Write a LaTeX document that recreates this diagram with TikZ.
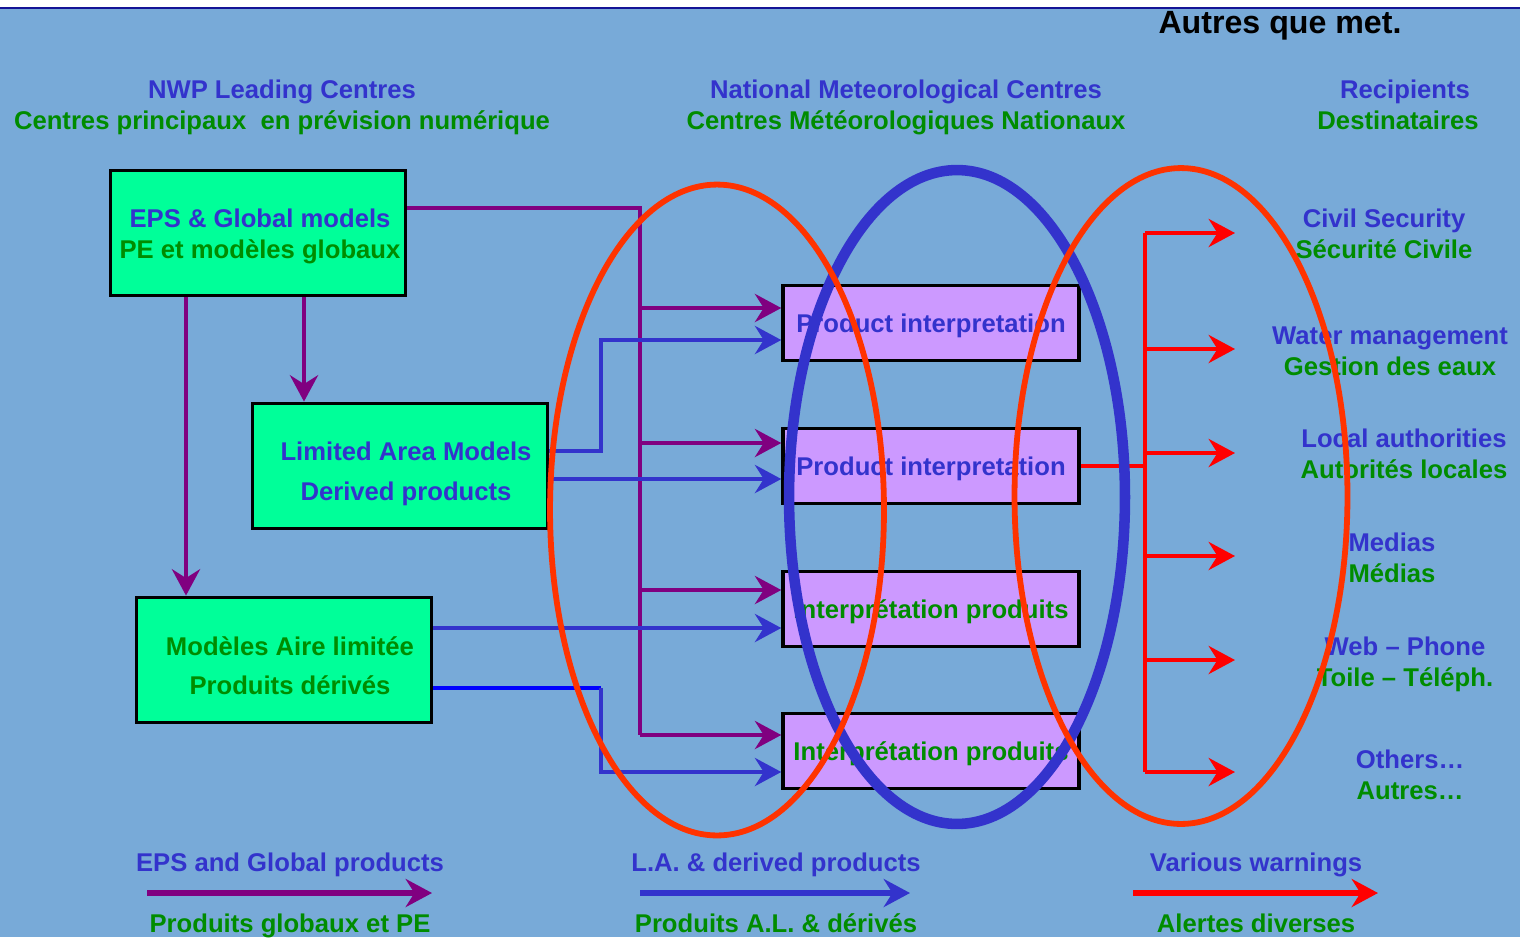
\documentclass[tikz,border=0pt]{standalone}
\usepackage{fontspec}
\setmainfont{Liberation Sans}
\usetikzlibrary{arrows.meta,calc}

% Colors
\definecolor{backblue}{RGB}{120,170,216}
\definecolor{topline}{RGB}{20,20,150}
\definecolor{tblue}{RGB}{51,51,204}
\definecolor{tgreen}{RGB}{0,140,0}
\definecolor{modelgreen}{RGB}{0,255,153}
\definecolor{prodlilac}{RGB}{204,153,255}
\definecolor{flowpurple}{RGB}{128,0,128}
\definecolor{flowblue}{RGB}{51,51,204}
\definecolor{purblue}{RGB}{0,0,255}
\definecolor{flowred}{RGB}{255,0,0}
\definecolor{ringred}{RGB}{255,51,0}

\begin{document}
\begin{tikzpicture}[
  x=0.02cm, y=-0.02cm, % one unit = one pixel, y downward
  font={\fontsize{14.6}{17.5}\selectfont\bfseries},
  >={Stealth[length=15pt, width=16pt, inset=5pt]},
  modelbox/.style={draw=black, line width=2.2pt, fill=modelgreen,
    minimum width=5.9cm, minimum height=2.5cm, inner sep=0pt},
  prodbox/.style={draw=black, line width=2pt, fill=prodlilac,
    minimum width=5.92cm, minimum height=1.5cm, inner sep=0pt,
    text height=10.4pt, text depth=0pt},
  tag/.style={inner sep=0pt, text height=10.4pt, text depth=0pt},
  label/.style={align=center, inner sep=0pt},
  pline/.style={draw=flowpurple, line width=2.3pt},
  bline/.style={draw=flowblue, line width=2.3pt},
  rline/.style={draw=flowred, line width=2.3pt},
  ring/.style={line width=3.3pt}
]
  % ---- background ----
  \useasboundingbox (0,0) rectangle (1520,937);
  \fill[backblue] (0,0) rectangle (1520,937);
  \fill[white] (0,0) rectangle (1520,7);
  \draw[topline, line width=1.2pt] (0,8) -- (1520,8);

  % ---- column titles ----
  \node[tag, font={\fontsize{18.3}{22}\selectfont\bfseries}, text height=13.1pt] (other) at (1280,22) {Autres que met.};
  \node[tag, tblue] (nwp) at (282,89) {NWP Leading Centres};
  \node[tag, tgreen] (nwpfr) at (282,120) {Centres principaux \ en prévision numérique};
  \node[tag, tblue] (nmc) at (906,89) {National Meteorological Centres};
  \node[tag, tgreen] (nmcfr) at (906,120) {Centres Météorologiques Nationaux};
  \node[tag, tblue] (rec) at (1405,89) {Recipients};
  \node[tag, tgreen] (recfr) at (1398,120) {Destinataires};

  % ---- model boxes ----
  \node[modelbox] (eps) at (258,233) {};
  \node[tag, tblue] (epsen) at ($(eps.center)+(2,-15)$) {EPS \& Global models};
  \node[tag, tgreen] (epsfr) at ($(eps.center)+(2,16)$) {PE et modèles globaux};
  \node[modelbox] (lam) at (400,466) {};
  \node[tag, tblue] (lamen) at ($(lam.center)+(6,-15)$) {Limited Area Models};
  \node[tag, tblue] (lamder) at ($(lam.center)+(6,25)$) {Derived products};
  \node[modelbox] (mal) at (284,660) {};
  \node[tag, tgreen] (malfr) at ($(mal.center)+(6,-14)$) {Modèles Aire limitée};
  \node[tag, tgreen] (malder) at ($(mal.center)+(6,25)$) {Produits dérivés};

  % ---- product interpretation boxes ----
  \node[prodbox, text=tblue] (prod1) at (931,323) {Product interpretation};
  \node[prodbox, text=tblue] (prod2) at (931,466) {Product interpretation};
  \node[prodbox, text=tgreen] (prod3) at (931,609) {Interprétation produits};
  \node[prodbox, text=tgreen] (prod4) at (931,751) {Interprétation produits};

  % ---- purple flow: EPS & global ----
  \coordinate (pbus) at (640,208);
  \coordinate (pdownA) at (186,0);
  \coordinate (pdownB) at (304,0);
  \draw[pline, ->] (eps.south -| pdownA) -- (mal.north -| pdownA);
  \draw[pline, ->] (eps.south -| pdownB) -- (lam.north -| pdownB);
  \foreach \n/\offp/\offb in {1/-15/17, 2/-23/13, 3/-19/19, 4/-16/21} {
    \coordinate (pin\n) at ($(prod\n.west)+(0,\offp)$);
    \coordinate (bin\n) at ($(prod\n.west)+(0,\offb)$);
  }
  \draw[pline] ($(eps.east)+(0,-25)$) -- (pbus) -- (pbus |- pin4);
  \foreach \n in {1,...,4} {
    \draw[pline, ->] (pbus |- pin\n) -- (pin\n);
  }

  % ---- blue flow: limited area ----
  \coordinate (bjog) at (601,0);
  \coordinate (mjog) at ($(mal.east)+(0,28)$);
  \draw[bline, ->] ($(lam.east)+(0,-15)$) -| (bjog |- bin1) -- (bin1);
  \draw[bline, ->] (lam.east |- bin2) -- (bin2);
  \draw[bline, ->] (mal.east |- bin3) -- (bin3);
  \draw[purblue, line width=2.3pt] (mjog) -- (bjog |- mjog);
  \draw[bline, ->] (bjog |- mjog) |- (bin4);

  % ---- red flow: warnings ----
  \coordinate (rbus) at (1145,0);
  \foreach \i/\y in {1/233, 2/349, 3/453, 4/556, 5/660, 6/772} {
    \coordinate (rtip\i) at (1235,\y);
  }
  \draw[rline] (prod2.east) -- (rbus |- prod2.east);
  \draw[rline] (rbus |- rtip1) -- (rbus |- rtip6);
  \foreach \i in {1,...,6} {
    \draw[rline, ->] (rbus |- rtip\i) -- (rtip\i);
  }

  % ---- recipients ----
  \node[label] (civil) at (1384,234) {\textcolor{tblue}{Civil Security}\\\textcolor{tgreen}{Sécurité Civile}};
  \node[label] (water) at (1390,351) {\textcolor{tblue}{Water management}\\\textcolor{tgreen}{Gestion des eaux}};
  \node[label] (local) at (1404,454) {\textcolor{tblue}{Local authorities}\\\textcolor{tgreen}{Autorités locales}};
  \node[label] (media) at (1392,558) {\textcolor{tblue}{Medias}\\\textcolor{tgreen}{Médias}};
  \node[label] (web) at (1405,664) {\textcolor{tblue}{Web -- Phone}\\\textcolor{tgreen}{Toile -- Téléph.}};
  \node[label] (others) at (1410,775) {\textcolor{tblue}{Others\ldots}\\\textcolor{tgreen}{Autres\ldots}};

  % ---- rings ----
  \draw[flowblue, line width=6pt] (957,497) ellipse [x radius=3.36cm, y radius=6.54cm];
  \draw[ringred, ring] (717,510) ellipse [x radius=3.34cm, y radius=6.51cm];
  \draw[ringred, ring] (1181,496) ellipse [x radius=3.33cm, y radius=6.56cm];

  % ---- legend ----
  \foreach \nm/\x/\xa/\xb/\col/\en/\fr in {
    leps/290/147/432/flowpurple/EPS and Global products/Produits globaux et PE,
    lla/776/640/910/flowblue/L.A. \& derived products/Produits A.L. \& dérivés,
    lwarn/1256/1133/1378/flowred/Various warnings/Alertes diverses} {
    \node[tag, tblue] (\nm) at (\x,862) {\en};
    \node[tag, tgreen] (\nm fr) at (\x,923) {\fr};
    \draw[\col, line width=3.4pt, ->] (\xa,893) -- (\xb,893);
  }
\end{tikzpicture}
\end{document}
